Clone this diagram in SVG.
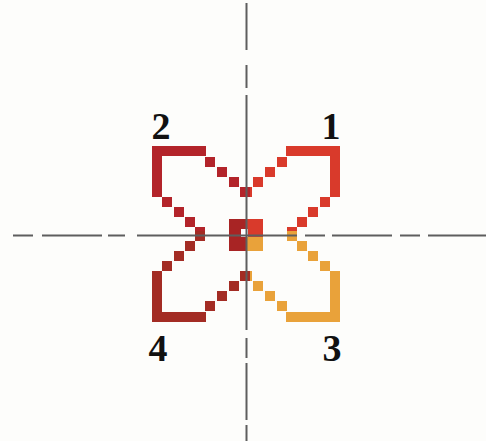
<svg xmlns="http://www.w3.org/2000/svg" xmlns:xlink="http://www.w3.org/1999/xlink" width="486" height="441" viewBox="0 0 486 441">
  <style>
    .axis { stroke: #5e5e5e; stroke-width: 2; fill: none; }
    .lbl { font-family: "Liberation Serif", "Times New Roman", serif; font-weight: bold; font-size: 38px; fill: #111; text-anchor: middle; }
  </style>
  <defs>
    <g id="petal">
      <rect x="40" y="-88" width="54" height="10"/>
      <rect x="84" y="-88" width="10" height="51"/>
      <rect x="31" y="-77" width="10" height="10"/>
      <rect x="19" y="-67" width="10" height="10"/>
      <rect x="7" y="-57" width="10" height="10"/>
      <rect x="-4" y="-47" width="10" height="10"/>
      <rect x="74" y="-37" width="10" height="10"/>
      <rect x="62" y="-27" width="10" height="10"/>
      <rect x="51" y="-17" width="10" height="10"/>
      <rect x="41" y="-7" width="10" height="10"/>
    </g>
  </defs>
  <rect width="486" height="441" fill="#fdfdfb"/>
  <g id="loop1"><use xlink:href="#petal" fill="#d93a2b" transform="translate(246,234)"/></g>
  <g id="loop3"><use xlink:href="#petal" fill="#e9a23a" transform="translate(246,234) scale(1,-1)"/></g>
  <g id="loop2"><use xlink:href="#petal" fill="#b3242a" transform="translate(246,234) scale(-1,1)"/></g>
  <g id="loop4"><use xlink:href="#petal" fill="#a32c24" transform="translate(246,234) scale(-1,-1)"/></g>
  <g id="center">
    <rect x="229" y="219" width="17" height="32" fill="#a82424"/>
    <rect x="246" y="219" width="17" height="18" fill="#d93a2b"/>
    <rect x="246" y="237" width="17" height="14" fill="#e9a23a"/>
    <rect x="241" y="229" width="7" height="8" fill="#ffffff"/>
  </g>
  <g id="axes">
    <path class="axis" d="M13 235.5H33M42 235.5H102M108 235.5H125M137 235.5H297M305 235.5H325M332 235.5H392M400 235.5H420M428 235.5H486"/>
    <path class="axis" d="M246.5 3V50M246.5 65V88M246.5 95V330M246.5 338V358M246.5 363V420M246.5 425V441"/>
  </g>
  <g id="labels">
    <text class="lbl" x="161" y="139">2</text>
    <text class="lbl" x="331" y="139">1</text>
    <text class="lbl" x="158" y="361">4</text>
    <text class="lbl" x="332" y="361">3</text>
  </g>
</svg>
